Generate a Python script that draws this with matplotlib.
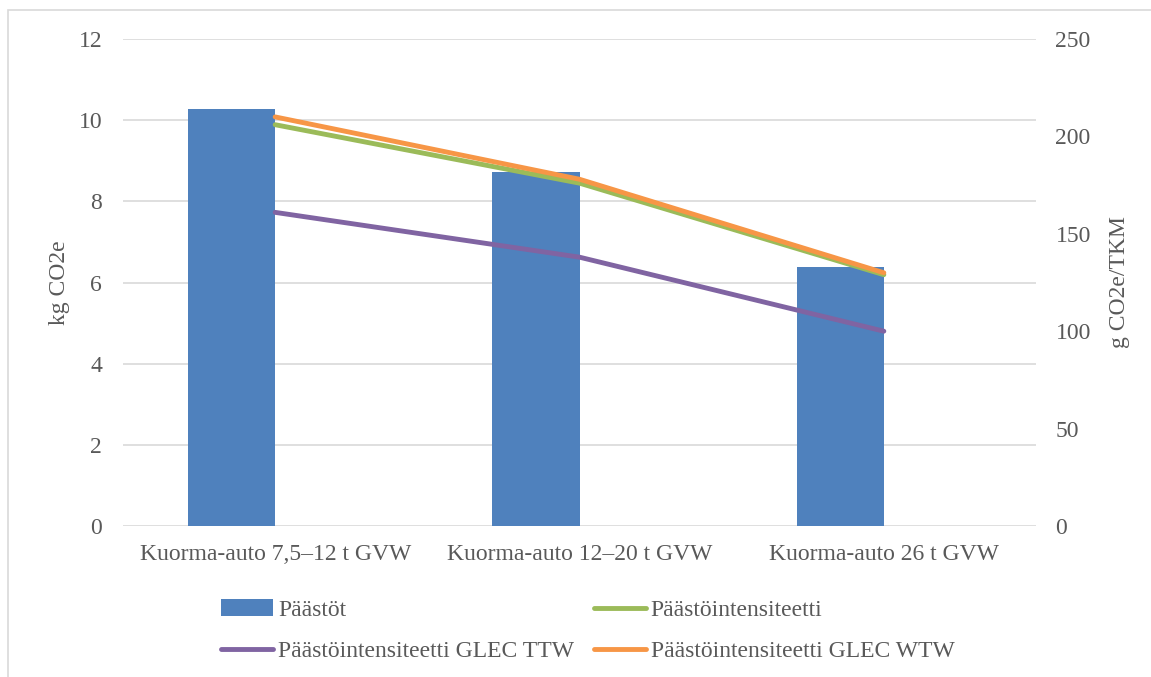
import numpy as np
import matplotlib.pyplot as plt
from matplotlib.patches import Rectangle

plt.rcParams['font.family'] = ['Liberation Serif', 'DejaVu Serif']

# truck classes and emissions
categories = ['Kuorma-auto 7,5–12 t GVW', 'Kuorma-auto 12–20 t GVW', 'Kuorma-auto 26 t GVW']
paastot = [10.27, 8.73, 6.37]              # kg CO2e
intensiteetti = [206, 176, 129]            # g CO2e/TKM
glec_ttw = [161, 138, 100]
glec_wtw = [210, 178, 130]

txt = '#595959'
fs = 17

fig = plt.figure(figsize=(11.51, 6.77), dpi=100)
fig.patches.append(Rectangle((8 / 1151, -0.01), 1.0, 1 - 10 / 677 + 0.01,
                             transform=fig.transFigure, fill=False,
                             edgecolor='#d9d9d9', linewidth=1.2))

ax = fig.add_axes([123 / 1151, 1 - 526 / 677, (1036 - 123) / 1151, (526 - 39) / 677])
ax2 = ax.twinx()

x = np.arange(len(categories))
w = 0.286
bars = ax.bar(x - w / 2, paastot, width=w, color='#4f81bd', label='Päästöt', zorder=2)

lw = 3.5
l1, = ax2.plot(x, intensiteetti, color='#9bbb59', lw=lw, solid_capstyle='round', label='Päästöintensiteetti')
l2, = ax2.plot(x, glec_ttw, color='#8064a2', lw=lw, solid_capstyle='round', label='Päästöintensiteetti GLEC TTW')
l3, = ax2.plot(x, glec_wtw, color='#f79646', lw=lw, solid_capstyle='round', label='Päästöintensiteetti GLEC WTW')

ax.set_xlim(-0.5, 2.5)
ax.set_ylim(0, 12)
ax.set_yticks(range(0, 13, 2))
ax2.set_ylim(0, 250)
ax2.set_yticks(range(0, 251, 50))
ax.set_xticks(x)
ax.set_xticklabels(categories)

ax.grid(axis='y', color='#d9d9d9', lw=1.2, zorder=0)
ax.set_axisbelow(True)
for a in (ax, ax2):
    for s in a.spines.values():
        s.set_visible(False)
    a.tick_params(length=0, labelsize=fs, colors=txt)
ax.tick_params(axis='y', pad=15)
ax.tick_params(axis='x', pad=13)
ax2.tick_params(axis='y', pad=14)

ax.set_ylabel('kg CO2e', fontsize=fs, color=txt, labelpad=6)
ax2.set_ylabel('g CO2e/TKM', fontsize=fs, color=txt, labelpad=13)

# legend fills column-wise, so order handles to get two rows
fig.legend(handles=[bars, l2, l1, l3], ncol=2, frameon=False,
           loc='upper left', bbox_to_anchor=(200 / 1151, 1 - 578 / 677),
           fontsize=fs, handlelength=2.2, handletextpad=0.2,
           columnspacing=0.85, labelspacing=0.85, labelcolor=txt)

fig.savefig('out.png', dpi=100)
